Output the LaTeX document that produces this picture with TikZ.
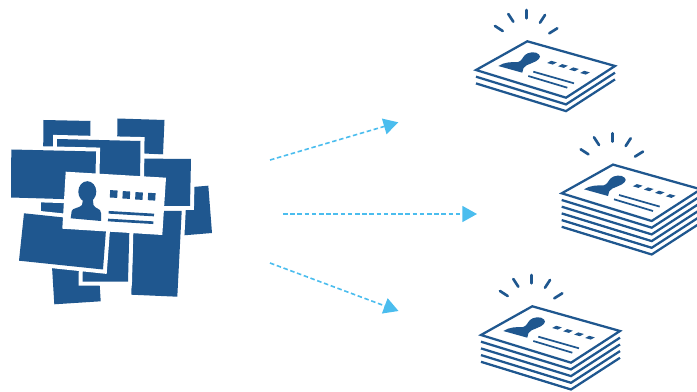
\documentclass[tikz,border=0pt]{standalone}
\usetikzlibrary{arrows.meta}
\definecolor{cardblue}{HTML}{1F578F}
\definecolor{arrowblue}{HTML}{4BBDEE}
\tikzset{
  sheet/.style={fill=cardblue,preaction={draw=white,line width=6pt,line join=miter}},
  cardline/.style={draw=cardblue,line width=1.7pt,line join=miter},
  ray/.style={draw=cardblue,line width=2pt,line cap=round},
  textbar/.style={draw=cardblue,line width=1.3pt},
  bigbar/.style={draw=cardblue,line width=2pt},
  flow/.style={draw=arrowblue,line width=1.2pt,dash pattern=on 3.4pt off 2pt,-{Triangle[length=11pt,width=12pt,fill=arrowblue]}},
}
\newcommand{\cardstack}[3]{%
  \begin{scope}[shift={(#1,#2)}]
    \foreach \i in {1,...,#3}{
      \draw[cardline] (0,6.7*\i) -- (90,27.7+6.7*\i) -- (139,-4+6.7*\i);
    }
    \draw[cardline,fill=white] (0,0) -- (51.3,-28.7) -- (139,-4) -- (90,27.7) -- cycle;
    \fill[cardblue] (22.3,-4) -- (46.3,2.7) -- (47.5,-2) .. controls (49,-5) and (52,-5) .. (56,-7)
      .. controls (62,-9) and (66,-13) .. (63,-15.5) .. controls (60,-19) and (52,-18) .. (49,-15)
      .. controls (46,-12) and (46,-9) .. (42,-8) .. controls (36,-8) and (28,-8) .. cycle;
    \foreach \cx/\cy in {76/-7.3,87/-4,98/-0.7,109/2.7}{
      \fill[cardblue] (\cx-2.8-2,\cy-0.8+1.1) -- (\cx-2.8+2,\cy-0.8-1.1) -- (\cx+2.8+2,\cy+0.8-1.1) -- (\cx+2.8-2,\cy+0.8+1.1) -- cycle;
    }
    \draw[textbar] (57.3,1.7) -- (98,13.3);
    \draw[textbar] (52.3,6) -- (91.3,17.7);
    \draw[ray] (19,-44) -- (26.7,-39);
    \draw[ray] (32.3,-56) -- (37.3,-48.3);
    \draw[ray] (50.7,-60) -- (50.7,-51.7);
    \draw[ray] (69,-55) -- (64,-47.3);
    \draw[ray] (81.3,-41.7) -- (73.3,-36.7);
  \end{scope}
}
\begin{document}
\begin{tikzpicture}[x=0.75pt,y=-0.75pt]
\useasboundingbox (0,0) rectangle (697,392);
\clip (0,0) rectangle (697,392);
% pile of cards
\path[sheet] (43.5,120) -- (90.5,121) -- (90,165) -- (43,165) -- cycle;
\path[sheet] (117.5,118.5) -- (164.5,120) -- (163,154.5) -- (117,152) -- cycle;
\path[sheet] (41,190) -- (70,190) -- (70,225) -- (41,225) -- cycle;
\path[sheet] (180.6,188) -- (208.3,185.7) -- (212,233) -- (184.3,235.3) -- cycle;
\path[sheet] (135,158.5) -- (191,159) -- (190,206) -- (135,206) -- cycle;
\path[sheet] (57,139) -- (140.5,141) -- (140,185) -- (57,185) -- cycle;
\path[sheet] (134,210.5) -- (181.7,211) -- (177.3,296.7) -- (131.3,294.7) -- cycle;
\path[sheet] (51,250) -- (97.5,250) -- (100.7,301.3) -- (54.3,304.3) -- cycle;
\path[sheet] (83,225) -- (129.5,225) -- (128,281.7) -- (82.7,281.7) -- cycle;
\path[sheet] (24,213.3) -- (106.6,222) -- (103,269.5) -- (19,260.7) -- cycle;
\path[sheet] (11.3,149.5) -- (96,151.5) -- (95,200) -- (11,197.5) -- cycle;
\fill[white] (65.7,171.7) -- (166,177.7) -- (162.3,235) -- (62.3,228.7) -- cycle;
\fill[cardblue] (87.3,191.7) ellipse [x radius=9,y radius=10.5];
\fill[cardblue] (70.7,218.3) -- (71.7,211) .. controls (72,208) and (80,208) .. (82,205) -- (83.3,198) -- (92.7,198) -- (93.5,205) .. controls (95,209) and (101,208) .. (101,213) -- (101,221) -- cycle;
\foreach \cx/\cy in {113.7/194,126.3/195,139/196,151.7/196.7}{
  \fill[cardblue,shift={(\cx,\cy)},rotate=-3.4] (-3.7,-3.7) rectangle (3.7,3.7);
}
\draw[bigbar] (108.7,212.3) -- (154,215);
\draw[bigbar] (108,220) -- (153.3,222.7);
% stacks
\cardstack{476}{70}{2}
\cardstack{561.7}{193.3}{5}
\cardstack{481}{335}{4}
% arrows
\coordinate (a1) at (270,160);
\coordinate (b1) at (398.3,122.3);
\coordinate (a2) at (283,214);
\coordinate (b2) at (477,214);
\coordinate (a3) at (270,263);
\coordinate (b3) at (398.5,311);
\draw[flow] (a1) -- (b1);
\draw[flow] (a2) -- (b2);
\draw[flow] (a3) -- (b3);
\end{tikzpicture}
\end{document}
